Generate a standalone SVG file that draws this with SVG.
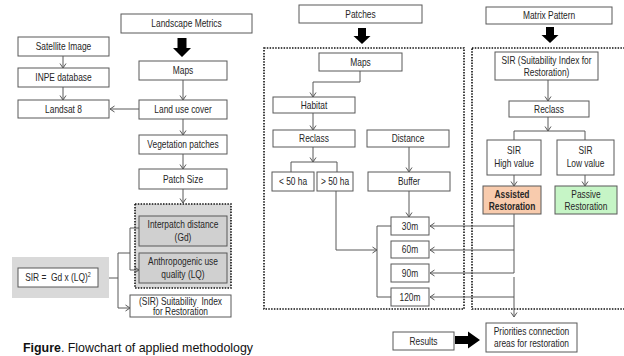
<svg xmlns="http://www.w3.org/2000/svg" width="624" height="356" viewBox="0 0 624 356">
<style>
.b{fill:#fff;stroke:#595959;stroke-width:1}
.t{font-family:"Liberation Sans",Arial,sans-serif;font-size:10px;fill:#262626;text-anchor:middle}
.c{fill:none;stroke:#595959;stroke-width:1}
.ca{fill:none;stroke:#595959;stroke-width:1;marker-end:url(#a)}
.d{fill:none;stroke:#111;stroke-width:1.6;stroke-dasharray:1.5 1.3}
.big{fill:#000}
</style>
<defs>
<marker id="a" markerWidth="8" markerHeight="8" refX="6" refY="4" orient="auto" markerUnits="userSpaceOnUse">
<path d="M1.5,1 L6,4 L1.5,7" fill="none" stroke="#595959" stroke-width="1"/>
</marker>
</defs>
<rect width="624" height="356" fill="#fff"/>

<g id="patches-frame"><rect class="d" x="264" y="48" width="200" height="261"/></g>
<g id="matrix-frame"><rect class="d" x="472" y="48" width="160" height="261"/></g>
<g id="metrics-group"><rect x="135" y="204" width="96" height="84" fill="#d9d9d9" stroke="#111" stroke-width="1.6" stroke-dasharray="1.5 1.3"/></g>

<g id="connectors">
<path class="ca" d="M63,56 V68"/>
<path class="ca" d="M63,87 V100"/>
<path class="ca" d="M139,109 H110"/>
<path class="ca" d="M183,80 V100"/>
<path class="ca" d="M183,119 V135"/>
<path class="ca" d="M183,154 V169"/>
<path class="ca" d="M183,189 V203"/>
<path class="ca" d="M139,228 H130 V270 H139"/>
<path class="ca" d="M130,253 H118 V308 H130"/>
<path class="ca" d="M118,278 H101"/>
<path class="ca" d="M360,71 V82 H313 V97"/>
<path class="ca" d="M313,113 V130"/>
<path class="ca" d="M313,147 V162"/>
<path class="c" d="M291,172 V162 H337 V172"/>
<path class="ca" d="M409,147 V172"/>
<path class="ca" d="M409,191 V217"/>
<path class="c" d="M391,226 H377 V297 H391"/>
<path class="ca" d="M336,191 V250 H377"/>
<path class="c" d="M514,214 V273"/>
<path class="ca" d="M514,226 H430"/>
<path class="ca" d="M514,250 H430"/>
<path class="ca" d="M514,273 H430"/>
<path class="ca" d="M514,297 H430"/>
<path class="ca" d="M514,277 V317"/>
<path class="ca" d="M548,80 V101"/>
<path class="ca" d="M548,117 V131"/>
<path class="c" d="M514,140 V131 H585 V140"/>
<path class="ca" d="M514,175 V186"/>
<path class="ca" d="M585,175 V186"/>
<path class="big" d="M177.5,38 h9 v10 h4.5 l-9,9 l-9,-9 h4.5 z"/>
<path class="big" d="M358,28 h8 v8 h4.5 l-8.5,8 l-8.5,-8 h4.5 z"/>
<path class="big" d="M546,27 h8 v8 h4.5 l-8.5,8 l-8.5,-8 h4.5 z"/>
<path class="big" d="M455,336 h13 v-4.5 l12,8.5 l-12,8.5 v-4.5 h-13 z"/>
</g>

<g id="landscape-metrics"><rect class="b" x="121" y="14" width="131" height="19"/><text class="t" transform="translate(186.5,27) scale(0.84,1)">Landscape Metrics</text></g>
<g id="satellite-image"><rect class="b" x="18" y="37" width="91" height="19"/><text class="t" transform="translate(63.5,50) scale(0.84,1)">Satellite Image</text></g>
<g id="inpe-database"><rect class="b" x="18" y="68" width="91" height="19"/><text class="t" transform="translate(63.5,81) scale(0.84,1)">INPE database</text></g>
<g id="landsat-8"><rect class="b" x="18" y="100" width="91" height="18"/><text class="t" transform="translate(63.5,113) scale(0.84,1)">Landsat 8</text></g>
<g id="maps-left"><rect class="b" x="139" y="61" width="88" height="19"/><text class="t" transform="translate(183,74) scale(0.84,1)">Maps</text></g>
<g id="land-use-cover"><rect class="b" x="139" y="100" width="88" height="19"/><text class="t" transform="translate(183,113) scale(0.84,1)">Land use cover</text></g>
<g id="vegetation-patches"><rect class="b" x="139" y="135" width="88" height="19"/><text class="t" transform="translate(183,148) scale(0.84,1)">Vegetation patches</text></g>
<g id="patch-size"><rect class="b" x="139" y="169" width="88" height="20"/><text class="t" transform="translate(183,182.5) scale(0.84,1)">Patch Size</text></g>
<g id="interpatch"><rect x="139" y="216" width="88" height="30" fill="#d0d0d0" stroke="#595959"/><text class="t" transform="translate(183,228) scale(0.84,1)">Interpatch distance</text><text class="t" transform="translate(183,241) scale(0.84,1)">(Gd)</text></g>
<g id="anthropogenic"><rect x="139" y="253" width="88" height="30" fill="#d0d0d0" stroke="#595959"/><text class="t" transform="translate(183,265) scale(0.84,1)">Anthropogenic use</text><text class="t" transform="translate(183,278) scale(0.84,1)">quality (LQ)</text></g>
<g id="sir-formula"><rect x="12" y="257" width="97" height="41" fill="#d9d9d9"/><rect class="b" x="18" y="268" width="80" height="19"/><text class="t" transform="translate(58,281) scale(0.84,1)" xml:space="preserve">SIR =  Gd x (LQ)<tspan font-size="6.5" dy="-4">2</tspan></text></g>
<g id="sir-left"><rect class="b" x="130" y="295" width="101" height="22"/><text class="t" transform="translate(180.5,305) scale(0.84,1)" xml:space="preserve">(SIR) Suitability  Index</text><text class="t" transform="translate(180.5,315) scale(0.84,1)">for Restoration</text></g>

<g id="patches"><rect class="b" x="299" y="5" width="123" height="18"/><text class="t" transform="translate(360.5,17.5) scale(0.84,1)">Patches</text></g>
<g id="maps-mid"><rect class="b" x="319" y="53" width="83" height="18"/><text class="t" transform="translate(360.5,65.5) scale(0.84,1)">Maps</text></g>
<g id="habitat"><rect class="b" x="273" y="97" width="82" height="16"/><text class="t" transform="translate(314,108.5) scale(0.84,1)">Habitat</text></g>
<g id="reclass-mid"><rect class="b" x="273" y="130" width="82" height="17"/><text class="t" transform="translate(314,142) scale(0.84,1)">Reclass</text></g>
<g id="distance"><rect class="b" x="367" y="130" width="82" height="17"/><text class="t" transform="translate(408,142) scale(0.84,1)">Distance</text></g>
<g id="lt50"><rect class="b" x="272" y="172" width="42" height="19"/><text class="t" transform="translate(293,185) scale(0.84,1)">&lt; 50 ha</text></g>
<g id="gt50"><rect class="b" x="317" y="172" width="36" height="19"/><text class="t" transform="translate(335,185) scale(0.84,1)">&gt; 50 ha</text></g>
<g id="buffer"><rect class="b" x="368" y="172" width="82" height="19"/><text class="t" transform="translate(409,185) scale(0.84,1)">Buffer</text></g>
<g id="m30"><rect class="b" x="391" y="217" width="38" height="18"/><text class="t" transform="translate(410,229.5) scale(0.84,1)">30m</text></g>
<g id="m60"><rect class="b" x="391" y="241" width="38" height="17"/><text class="t" transform="translate(410,253) scale(0.84,1)">60m</text></g>
<g id="m90"><rect class="b" x="391" y="264" width="38" height="18"/><text class="t" transform="translate(410,276.5) scale(0.84,1)">90m</text></g>
<g id="m120"><rect class="b" x="391" y="288" width="38" height="18"/><text class="t" transform="translate(410,300.5) scale(0.84,1)">120m</text></g>
<g id="results"><rect class="b" x="393" y="332" width="61" height="18"/><text class="t" transform="translate(423.5,344.5) scale(0.84,1)">Results</text></g>
<g id="priorities"><rect class="b" x="486" y="323" width="91" height="29"/><text class="t" transform="translate(531.5,335) scale(0.84,1)">Priorities connection</text><text class="t" transform="translate(531.5,347) scale(0.84,1)">areas for restoration</text></g>

<g id="matrix-pattern"><rect class="b" x="486" y="7" width="126" height="17"/><text class="t" transform="translate(549,19) scale(0.84,1)">Matrix Pattern</text></g>
<g id="sir-right"><rect class="b" x="495" y="52" width="103" height="28"/><text class="t" transform="translate(546.5,63.5) scale(0.84,1)">SIR (Suitability Index for</text><text class="t" transform="translate(546.5,75.5) scale(0.84,1)">Restoration)</text></g>
<g id="reclass-right"><rect class="b" x="509" y="101" width="80" height="16"/><text class="t" transform="translate(549,112.5) scale(0.84,1)">Reclass</text></g>
<g id="sir-high"><rect class="b" x="487" y="140" width="54" height="35"/><text class="t" transform="translate(514,154) scale(0.84,1)">SIR</text><text class="t" transform="translate(514,167) scale(0.84,1)">High value</text></g>
<g id="sir-low"><rect class="b" x="557" y="140" width="57" height="35"/><text class="t" transform="translate(585.5,154) scale(0.84,1)">SIR</text><text class="t" transform="translate(585.5,167) scale(0.84,1)">Low value</text></g>
<g id="assisted"><rect x="483" y="186" width="58" height="28" fill="#f8cbad" stroke="#595959"/><text class="t" transform="translate(512,197.5) scale(0.84,1)" font-weight="bold">Assisted</text><text class="t" transform="translate(512,209.5) scale(0.84,1)" font-weight="bold">Restoration</text></g>
<g id="passive"><rect x="555" y="186" width="62" height="28" fill="#c6f5c6" stroke="#595959"/><text class="t" transform="translate(586,197.5) scale(0.84,1)">Passive</text><text class="t" transform="translate(586,209.5) scale(0.84,1)">Restoration</text></g>

<text x="23" y="352" font-family="Liberation Sans, Arial, sans-serif" font-size="12.4" fill="#111"><tspan font-weight="bold">Figure</tspan>. Flowchart of applied methodology</text>
</svg>
